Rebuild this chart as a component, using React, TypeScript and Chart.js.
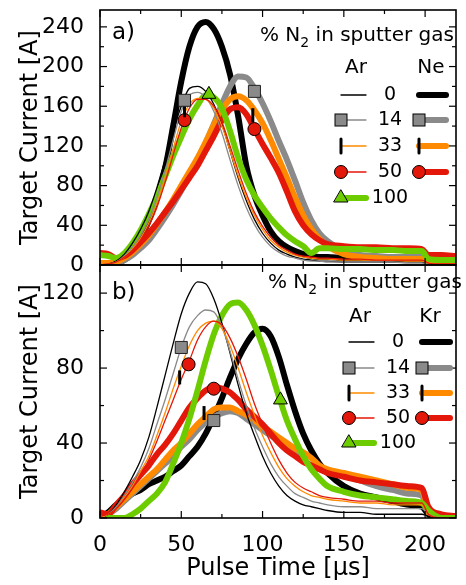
import React, { useEffect, useRef } from "react";
import { Chart, registerables } from "chart.js";

Chart.register(...registerables);

const FONT = '"DejaVu Sans", "Liberation Sans", sans-serif';
const C_BLACK = "#000000";
const C_GRAY = "#8a8a8a";
const C_ORANGE = "#ff8a00";
const C_RED = "#e3170a";
const C_GREEN = "#6dcc00";
const THIN = 1.3;
const THICK = 6;

// shared time grid (µs)
const T = [0, 5, 10, 15, 20, 25, 30, 35, 40, 45, 50, 55, 60, 65, 70, 75, 80, 85, 90, 95, 100, 105, 110, 115, 120, 125, 130, 135, 140, 150, 160, 170, 180, 190, 198, 202, 210, 219];

// panel a) Ar (thin) and Ne (thick), target current [A]
const aAr0 = [0, 1, 4, 11, 22, 36, 54, 78, 106, 135, 160, 178, 180, 175, 162, 142, 115, 88, 65, 46, 32, 22, 15, 11, 8, 6, 5, 4, 4, 3, 3, 3, 3, 3, 3, 1, 0, 0];
const aAr14 = [0, 1, 3, 9, 18, 30, 46, 68, 95, 126, 155, 171, 174, 169, 155, 133, 106, 80, 58, 41, 28, 19, 13, 9, 7, 5, 4, 4, 3, 3, 3, 3, 3, 2, 2, 1, 0, 0];
const aAr33 = [0, 1, 3, 8, 16, 27, 42, 62, 88, 117, 145, 162, 168, 167, 158, 140, 115, 90, 68, 50, 36, 25, 18, 13, 10, 8, 7, 6, 6, 5, 5, 5, 5, 4, 4, 2, 1, 1];
const aAr50 = [0, 1, 3, 8, 15, 25, 39, 58, 83, 111, 138, 158, 167, 167, 160, 144, 120, 95, 72, 53, 39, 28, 20, 15, 11, 9, 8, 7, 7, 6, 6, 5, 5, 5, 5, 2, 1, 1];
const aNe0 = [0, 1, 2, 5, 12, 26, 45, 68, 97, 140, 185, 220, 240, 245, 238, 220, 192, 150, 100, 70, 50, 34, 24, 18, 14, 11, 9, 8, 8, 7, 7, 7, 7, 7, 7, 2, 1, 0];
const aNe14 = [1, 1, 2, 5, 10, 17, 25, 36, 48, 61, 75, 90, 106, 123, 142, 162, 180, 190, 189, 178, 163, 145, 125, 106, 85, 63, 45, 32, 24, 14, 10, 9, 8, 8, 8, 3, 2, 2];
const aNe33 = [2, 2, 3, 7, 13, 21, 30, 41, 53, 66, 80, 94, 108, 124, 141, 156, 167, 170, 166, 156, 143, 126, 107, 88, 68, 50, 36, 26, 19, 11, 8, 7, 6, 6, 6, 2, 1, 1];
const aNe50 = [12, 11, 7, 9, 15, 23, 32, 42, 53, 64, 76, 88, 100, 115, 130, 146, 157, 159, 152, 137, 122, 108, 93, 74, 54, 40, 31, 25, 21, 19, 18, 18, 17, 17, 16, 10, 10, 9];
const aN100 = [10, 9, 7, 12, 22, 35, 51, 69, 89, 110, 129, 147, 161, 171, 169, 158, 135, 108, 86, 70, 58, 47, 38, 30, 24, 19, 12, 17, 17, 16, 16, 15, 15, 14, 14, 6, 5, 5];

// panel b) Ar (thin) and Kr (thick)
const bAr0 = [0, 2, 7, 14, 22, 31, 43, 59, 76, 93, 109, 120, 126, 125, 117, 104, 88, 71, 56, 44, 33, 24, 17, 12, 9, 7, 6, 5, 4, 3, 3, 2, 2, 2, 2, 1, 0, 0];
const bAr14 = [0, 2, 6, 12, 19, 27, 37, 50, 63, 77, 91, 102, 108, 111, 110, 102, 89, 74, 60, 48, 38, 29, 22, 17, 13, 11, 9, 8, 7, 6, 6, 5, 5, 5, 5, 2, 0, 0];
const bAr33 = [0, 2, 5, 11, 17, 25, 33, 44, 56, 69, 81, 92, 100, 104, 105, 101, 92, 80, 67, 55, 44, 35, 27, 21, 17, 14, 12, 11, 10, 9, 8, 8, 7, 7, 7, 2, 0, 0];
const bAr50 = [1, 2, 5, 10, 16, 23, 31, 41, 52, 63, 74, 84, 95, 102, 105, 103, 96, 86, 74, 61, 50, 40, 31, 24, 19, 16, 14, 12, 11, 10, 9, 9, 8, 8, 8, 2, 0, 0];
const bKr0 = [0, 3, 7, 10, 13, 15, 18, 20, 22, 25, 28, 33, 38, 45, 54, 64, 75, 85, 93, 99, 101, 97, 86, 71, 57, 45, 36, 29, 24, 17, 13, 11, 9, 7, 6, 2, 0, 0];
const bKr14 = [0, 2, 5, 9, 13, 17, 21, 25, 29, 33, 38, 42, 47, 51, 54, 56, 57, 56, 53, 50, 47, 44, 41, 37, 34, 31, 28, 26, 25, 23, 20, 17, 15, 13, 12, 3, 1, 0];
const bKr33 = [0, 2, 6, 10, 14, 18, 22, 26, 31, 36, 40, 45, 50, 54, 58, 59, 59, 57, 55, 52, 49, 46, 43, 40, 37, 35, 32, 28, 26, 24, 22, 20, 18, 16, 15, 3, 1, 0];
const bKr50 = [3, 2, 7, 12, 18, 23, 28, 34, 39, 45, 52, 59, 64, 68, 70, 69, 67, 63, 58, 54, 50, 45, 40, 36, 33, 30, 28, 26, 24, 22, 20, 19, 18, 17, 16, 6, 2, 1];
const bN100 = [0, 0, 0, 0, 2, 5, 9, 13, 19, 29, 40, 53, 68, 84, 98, 108, 114, 115, 111, 103, 92, 79, 65, 52, 42, 33, 26, 21, 17, 14, 12, 11, 10, 9, 8, 4, 0, 0];

// markers [t, I]
const markA_square = [[52, 166], [95, 175]];
const markA_bar = [[52, 156], [94, 151]];
const markA_circle = [[52, 146], [95, 137]];
const markA_triangle = [[67, 172]];
const markB_square = [[50, 91], [70, 52]];
const markB_bar = [[49, 75], [64, 56]];
const markB_circle = [[54.5, 82], [70, 69]];
const markB_triangle = [[111, 63]];

// ticks
const X_TICKS = [0, 50, 100, 150, 200];
const X_MINOR = [25, 75, 125, 175];
const Y_TICKS_A = [0, 40, 80, 120, 160, 200, 240];
const Y_MINOR_A = [20, 60, 100, 140, 180, 220];
const Y_TICKS_B = [0, 40, 80, 120];
const Y_MINOR_B = [20, 60, 100];

const LEGEND_NUMS = ["0", "14", "33", "50", "100"];

type MarkKind = "square" | "bar" | "circle" | "triangle" | null;

function lineDS(values: number[], color: string, width: number) {
  return {
    data: T.map((t, i) => ({ x: t, y: values[i] })),
    borderColor: color,
    backgroundColor: color,
    borderWidth: width,
    pointRadius: 0,
    pointHoverRadius: 0,
    fill: false,
    cubicInterpolationMode: "monotone",
    borderCapStyle: "round",
    borderJoinStyle: "round",
  };
}

function markerDS(points: number[][], kind: MarkKind) {
  const base: any = {
    data: points.map(([x, y]) => ({ x, y })),
    showLine: false,
    pointHoverRadius: 0,
  };
  if (kind === "square")
    return { ...base, pointStyle: "rect", pointRadius: 8.5, pointBackgroundColor: C_GRAY, pointBorderColor: "#222", pointBorderWidth: 1 };
  if (kind === "circle")
    return { ...base, pointStyle: "circle", pointRadius: 6.5, pointBackgroundColor: C_RED, pointBorderColor: "#000", pointBorderWidth: 1 };
  if (kind === "triangle")
    return { ...base, pointStyle: "triangle", pointRadius: 8, pointBackgroundColor: C_GREEN, pointBorderColor: "#000", pointBorderWidth: 1 };
  return { ...base, pointStyle: "line", pointRadius: 7, pointRotation: 90, pointBorderColor: "#000", pointBackgroundColor: "#000", pointBorderWidth: 3 };
}

function drawMark(ctx: CanvasRenderingContext2D, kind: MarkKind, x: number, y: number) {
  if (!kind) return;
  ctx.save();
  ctx.strokeStyle = "#000";
  ctx.lineWidth = 1;
  if (kind === "square") {
    ctx.fillStyle = C_GRAY;
    ctx.fillRect(x - 6, y - 6, 12, 12);
    ctx.strokeRect(x - 6, y - 6, 12, 12);
  } else if (kind === "circle") {
    ctx.beginPath();
    ctx.arc(x, y, 6.5, 0, Math.PI * 2);
    ctx.fillStyle = C_RED;
    ctx.fill();
    ctx.stroke();
  } else if (kind === "triangle") {
    ctx.beginPath();
    ctx.moveTo(x, y - 8);
    ctx.lineTo(x + 7, y + 4);
    ctx.lineTo(x - 7, y + 4);
    ctx.closePath();
    ctx.fillStyle = C_GREEN;
    ctx.fill();
    ctx.stroke();
  } else {
    ctx.lineWidth = 3;
    ctx.beginPath();
    ctx.moveTo(x, y - 7);
    ctx.lineTo(x, y + 7);
    ctx.stroke();
  }
  ctx.restore();
}

const LEGEND_SAMPLES: { left: [string, number, MarkKind] | null; right: [string, number, MarkKind] | null }[] = [
  { left: [C_BLACK, THIN, null], right: [C_BLACK, THICK, null] },
  { left: [C_GRAY, THIN, "square"], right: [C_GRAY, THICK, "square"] },
  { left: [C_ORANGE, THIN, "bar"], right: [C_ORANGE, THICK, "bar"] },
  { left: [C_RED, THIN, "circle"], right: [C_RED, THICK, "circle"] },
  { left: [C_GREEN, THICK, "triangle"], right: null },
];

interface PanelCfg {
  canvasTop: number;
  height: number;
  padTop: number;
  padBottom: number;
  yMax: number;
  yTicks: number[];
  yMinor: number[];
  showX: boolean;
  datasets: any[];
  label: string;
  labelY: number;
  gas: string;
  leg: {
    titleX: number; titleY: number; headY: number; arX: number; gasX: number;
    rows: number[]; numX: number; lx1: number; lx2: number; rx1: number; rx2: number;
  };
}

const PANEL_A: PanelCfg = {
  canvasTop: 0,
  height: 280,
  padTop: 8,
  padBottom: 15,
  yMax: 257,
  yTicks: Y_TICKS_A,
  yMinor: Y_MINOR_A,
  showX: false,
  label: "a)",
  labelY: 33,
  gas: "Ne",
  datasets: [
    markerDS(markA_square, "square"),
    markerDS(markA_bar, "bar"),
    markerDS(markA_circle, "circle"),
    markerDS(markA_triangle, "triangle"),
    lineDS(aAr50, C_RED, THIN),
    lineDS(aAr33, C_ORANGE, THIN),
    lineDS(aAr14, C_GRAY, THIN),
    lineDS(aAr0, C_BLACK, THIN),
    lineDS(aN100, C_GREEN, THICK),
    lineDS(aNe50, C_RED, THICK),
    lineDS(aNe33, C_ORANGE, THICK),
    lineDS(aNe14, C_GRAY, THICK),
    lineDS(aNe0, C_BLACK, THICK),
  ],
  leg: { titleX: 260, titleY: 41, headY: 68, arX: 356, gasX: 431, rows: [95, 120, 146, 172, 198], numX: 390, lx1: 341, lx2: 366, rx1: 419, rx2: 446 },
};

const PANEL_B: PanelCfg = {
  canvasTop: 255,
  height: 330,
  padTop: 10,
  padBottom: 0,
  yMax: 135,
  yTicks: Y_TICKS_B,
  yMinor: Y_MINOR_B,
  showX: true,
  label: "b)",
  labelY: 293,
  gas: "Kr",
  datasets: [
    markerDS(markB_square, "square"),
    markerDS(markB_bar, "bar"),
    markerDS(markB_circle, "circle"),
    markerDS(markB_triangle, "triangle"),
    lineDS(bAr50, C_RED, THIN),
    lineDS(bAr33, C_ORANGE, THIN),
    lineDS(bAr14, C_GRAY, THIN),
    lineDS(bAr0, C_BLACK, THIN),
    lineDS(bN100, C_GREEN, THICK),
    lineDS(bKr50, C_RED, THICK),
    lineDS(bKr33, C_ORANGE, THICK),
    lineDS(bKr14, C_GRAY, THICK),
    lineDS(bKr0, C_BLACK, THICK),
  ],
  leg: { titleX: 268, titleY: 288, headY: 317, arX: 360, gasX: 430, rows: [342, 368, 393, 418, 443], numX: 398, lx1: 349, lx2: 374, rx1: 422, rx2: 450 },
};

function buildChart(canvas: HTMLCanvasElement, P: PanelCfg) {
  const off = P.canvasTop;
  const deco = {
    id: "deco",
    afterDraw(chart: any) {
      const ctx: CanvasRenderingContext2D = chart.ctx;
      const { left, right, top, bottom } = chart.chartArea;
      const xs = chart.scales.x;
      const ys = chart.scales.y;
      ctx.save();
      ctx.strokeStyle = "#000";
      ctx.lineWidth = 1.2;
      const seg = (x1: number, y1: number, x2: number, y2: number) => {
        ctx.beginPath();
        ctx.moveTo(x1, y1);
        ctx.lineTo(x2, y2);
        ctx.stroke();
      };
      const MAJ = 7, MIN = 4;
      X_TICKS.forEach((v) => { const p = xs.getPixelForValue(v); seg(p, bottom, p, bottom - MAJ); seg(p, top, p, top + MAJ); });
      X_MINOR.forEach((v) => { const p = xs.getPixelForValue(v); seg(p, bottom, p, bottom - MIN); seg(p, top, p, top + MIN); });
      P.yTicks.forEach((v) => { const p = ys.getPixelForValue(v); seg(left, p, left + MAJ, p); seg(right, p, right - MAJ, p); });
      P.yMinor.forEach((v) => { const p = ys.getPixelForValue(v); seg(left, p, left + MIN, p); seg(right, p, right - MIN, p); });
      ctx.lineWidth = 1.6;
      ctx.strokeRect(left, top, right - left, bottom - top);

      // panel label
      ctx.fillStyle = "#000";
      ctx.font = `23px ${FONT}`;
      ctx.textAlign = "left";
      ctx.textBaseline = "middle";
      ctx.fillText(P.label, 112, P.labelY - off);

      // legend
      const L = P.leg;
      ctx.textBaseline = "alphabetic";
      ctx.font = `20px ${FONT}`;
      let x = L.titleX;
      const ty = L.titleY - off;
      ctx.fillText("% N", x, ty);
      x += ctx.measureText("% N").width;
      ctx.font = `14px ${FONT}`;
      ctx.fillText("2", x, ty + 6);
      x += ctx.measureText("2").width;
      ctx.font = `20px ${FONT}`;
      ctx.fillText(" in sputter gas", x, ty);

      ctx.textAlign = "center";
      ctx.textBaseline = "middle";
      ctx.fillText("Ar", L.arX, L.headY - off);
      ctx.fillText(P.gas, L.gasX, L.headY - off);

      ctx.font = `19px ${FONT}`;
      LEGEND_NUMS.forEach((n, i) => {
        const y = L.rows[i] - off;
        ctx.fillStyle = "#000";
        ctx.fillText(n, L.numX, y);
        const s = LEGEND_SAMPLES[i];
        ctx.lineCap = "round";
        if (s.left) {
          ctx.strokeStyle = s.left[0];
          ctx.lineWidth = s.left[1];
          seg(L.lx1, y, L.lx2, y);
          drawMark(ctx, s.left[2], L.lx1, y);
        }
        if (s.right) {
          ctx.strokeStyle = s.right[0];
          ctx.lineWidth = s.right[1];
          seg(L.rx1, y, L.rx2, y);
          drawMark(ctx, s.right[2], L.rx1, y);
        }
      });
      ctx.restore();
    },
  };

  return new Chart(canvas, {
    type: "line",
    data: { datasets: P.datasets },
    options: {
      animation: false,
      responsive: false,
      events: [],
      layout: { padding: { top: P.padTop, bottom: P.padBottom, left: 0, right: 1 } },
      plugins: { legend: { display: false }, tooltip: { enabled: false } },
      scales: {
        x: {
          type: "linear",
          min: 0,
          max: 219,
          display: P.showX,
          grid: { display: false },
          border: { display: false },
          afterBuildTicks: (s: any) => { s.ticks = X_TICKS.map((v) => ({ value: v })); },
          afterFit: (s: any) => {
            if (P.showX) s.height = 67;
            s.paddingLeft = 0;
            s.paddingRight = 0;
          },
          ticks: { autoSkip: false, maxRotation: 0, font: { family: FONT, size: 22 }, color: "#000", padding: 6 },
          title: { display: true, text: "Pulse Time [\u03bcs]", font: { family: FONT, size: 24 }, color: "#000", padding: { top: 0, bottom: 2 } },
        },
        y: {
          type: "linear",
          min: 0,
          max: P.yMax,
          grid: { display: false },
          border: { display: false },
          afterBuildTicks: (s: any) => { s.ticks = P.yTicks.map((v) => ({ value: v })); },
          afterFit: (s: any) => {
            s.width = 100;
            s.paddingTop = 0;
            s.paddingBottom = 0;
          },
          ticks: { autoSkip: false, font: { family: FONT, size: 22 }, color: "#000", padding: 8 },
          title: { display: true, text: "Target Current [A]", font: { family: FONT, size: 24 }, color: "#000", padding: { top: 16, bottom: 0 } },
        },
      },
    } as any,
    plugins: [deco],
  } as any);
}

export default function App() {
  const refA = useRef<HTMLCanvasElement>(null);
  const refB = useRef<HTMLCanvasElement>(null);
  useEffect(() => {
    const a = buildChart(refA.current!, PANEL_A);
    const b = buildChart(refB.current!, PANEL_B);
    return () => {
      a.destroy();
      b.destroy();
    };
  }, []);
  return (
    <div style={{ position: "absolute", left: 0, top: 0, width: 466, height: 585, background: "#fff", overflow: "hidden" }}>
      <canvas ref={refA} width={466} height={280} style={{ position: "absolute", left: 0, top: 0, width: 466, height: 280 }} />
      <canvas ref={refB} width={466} height={330} style={{ position: "absolute", left: 0, top: 255, width: 466, height: 330 }} />
    </div>
  );
}
